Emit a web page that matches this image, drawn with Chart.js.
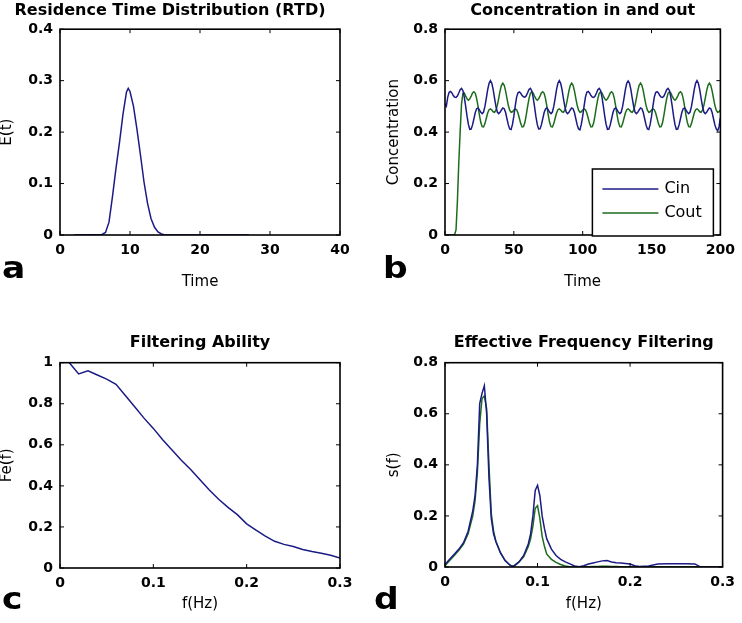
<!DOCTYPE html>
<html>
<head>
<meta charset="utf-8">
<script src="https://cdn.jsdelivr.net/npm/chart.js@4.4.1/dist/chart.umd.min.js"></script>
<style>
  body { margin: 0; background: #fff; }
  #wrap { position: relative; width: 742px; height: 623px; overflow: hidden; }
  #wrap canvas { position: absolute; }
  .tag { position: absolute; font: bold 30px "DejaVu Sans"; line-height: 30px; color: #000; transform: scaleX(1.15); transform-origin: left top; }
</style>
</head>
<body>
<div id="wrap">
  <canvas id="panelA" width="400" height="311" style="left:0;top:0"></canvas>
  <canvas id="panelB" width="371" height="311" style="left:371px;top:0"></canvas>
  <canvas id="panelC" width="371" height="312" style="left:0;top:311px"></canvas>
  <canvas id="panelD" width="371" height="312" style="left:371px;top:311px"></canvas>
  <div class="tag" style="left:2px;top:253px">a</div>
  <div class="tag" style="left:383px;top:253px">b</div>
  <div class="tag" style="left:2px;top:584px">c</div>
  <div class="tag" style="left:374px;top:584px">d</div>
</div>
<script>
// a: residence time distribution
const timeRTD = [2, 6, 6.5, 7, 7.5, 8, 8.5, 9, 9.5, 9.75, 10, 10.5, 11, 11.5, 12, 12.5, 13, 13.5, 14, 14.5, 15, 27];
const rtdE = [0, 0.001, 0.005, 0.025, 0.075, 0.13, 0.18, 0.235, 0.278, 0.285, 0.279, 0.25, 0.205, 0.155, 0.103, 0.062, 0.032, 0.015, 0.006, 0.002, 0, 0];

// b: concentration in / out, one sample per time unit (t = 0..200)
const timeConc = Array.from({ length: 201 }, (_, i) => i);
const cin = [
  0.51, 0.501, 0.536, 0.555, 0.558, 0.552, 0.542, 0.536, 0.535, 0.54,
  0.552, 0.565, 0.57, 0.562, 0.536, 0.501, 0.462, 0.43, 0.411, 0.412,
  0.428, 0.452, 0.476, 0.491, 0.494, 0.486, 0.477, 0.472, 0.478, 0.5,
  0.531, 0.565, 0.59, 0.6, 0.59, 0.565, 0.531, 0.5, 0.478, 0.472,
  0.477, 0.486, 0.494, 0.491, 0.476, 0.452, 0.428, 0.412, 0.41, 0.43,
  0.462, 0.501, 0.536, 0.553, 0.556, 0.551, 0.542, 0.537, 0.536, 0.541,
  0.553, 0.566, 0.57, 0.561, 0.535, 0.5, 0.461, 0.43, 0.412, 0.413,
  0.428, 0.452, 0.476, 0.49, 0.494, 0.486, 0.477, 0.472, 0.478, 0.5,
  0.531, 0.565, 0.59, 0.6, 0.59, 0.565, 0.531, 0.5, 0.478, 0.472,
  0.477, 0.486, 0.494, 0.491, 0.476, 0.452, 0.428, 0.412, 0.409, 0.43,
  0.462, 0.501, 0.536, 0.555, 0.558, 0.552, 0.542, 0.536, 0.535, 0.54,
  0.552, 0.565, 0.57, 0.562, 0.536, 0.501, 0.462, 0.43, 0.411, 0.412,
  0.428, 0.452, 0.476, 0.491, 0.494, 0.486, 0.477, 0.472, 0.478, 0.5,
  0.531, 0.565, 0.59, 0.599, 0.59, 0.565, 0.531, 0.5, 0.478, 0.472,
  0.477, 0.486, 0.494, 0.491, 0.476, 0.452, 0.428, 0.412, 0.41, 0.43,
  0.462, 0.501, 0.536, 0.554, 0.557, 0.552, 0.542, 0.536, 0.535, 0.54,
  0.552, 0.565, 0.57, 0.562, 0.536, 0.501, 0.462, 0.43, 0.411, 0.412,
  0.428, 0.452, 0.476, 0.491, 0.494, 0.486, 0.477, 0.472, 0.478, 0.5,
  0.531, 0.565, 0.59, 0.6, 0.59, 0.565, 0.531, 0.5, 0.478, 0.472,
  0.477, 0.486, 0.494, 0.491, 0.476, 0.452, 0.428, 0.412, 0.405, 0.42,
  0.455
];
const cout = [
  0, 0, 0, 0, 0, 0, 0, 0.002, 0.02, 0.13,
  0.28, 0.4, 0.51, 0.55, 0.552, 0.54, 0.529, 0.524, 0.529, 0.54,
  0.552, 0.557, 0.551, 0.53, 0.5, 0.466, 0.437, 0.421, 0.42, 0.433,
  0.454, 0.474, 0.487, 0.49, 0.486, 0.479, 0.477, 0.485, 0.504, 0.531,
  0.56, 0.582, 0.59, 0.582, 0.56, 0.531, 0.504, 0.485, 0.477, 0.479,
  0.486, 0.49, 0.487, 0.474, 0.454, 0.433, 0.42, 0.421, 0.437, 0.466,
  0.5, 0.53, 0.551, 0.557, 0.552, 0.54, 0.529, 0.524, 0.529, 0.54,
  0.552, 0.557, 0.551, 0.53, 0.5, 0.466, 0.437, 0.421, 0.42, 0.433,
  0.454, 0.474, 0.487, 0.49, 0.486, 0.479, 0.477, 0.485, 0.504, 0.531,
  0.56, 0.582, 0.59, 0.582, 0.56, 0.531, 0.504, 0.485, 0.477, 0.479,
  0.486, 0.49, 0.487, 0.474, 0.454, 0.433, 0.42, 0.421, 0.437, 0.466,
  0.5, 0.53, 0.551, 0.557, 0.552, 0.54, 0.529, 0.524, 0.529, 0.54,
  0.552, 0.557, 0.551, 0.53, 0.5, 0.466, 0.437, 0.421, 0.42, 0.433,
  0.454, 0.474, 0.487, 0.49, 0.486, 0.479, 0.477, 0.485, 0.504, 0.531,
  0.56, 0.582, 0.59, 0.582, 0.56, 0.531, 0.504, 0.485, 0.477, 0.479,
  0.486, 0.49, 0.487, 0.474, 0.454, 0.433, 0.42, 0.421, 0.437, 0.466,
  0.5, 0.53, 0.551, 0.557, 0.552, 0.54, 0.529, 0.524, 0.529, 0.54,
  0.552, 0.557, 0.551, 0.53, 0.5, 0.466, 0.437, 0.421, 0.42, 0.433,
  0.454, 0.474, 0.487, 0.49, 0.486, 0.479, 0.477, 0.485, 0.504, 0.531,
  0.56, 0.582, 0.59, 0.582, 0.56, 0.531, 0.504, 0.485, 0.477, 0.479,
  0.486
];

// c: filtering ability
const freqFe = [0.01, 0.02, 0.03, 0.04, 0.05, 0.06, 0.07, 0.08, 0.09, 0.10, 0.11, 0.12, 0.13, 0.14, 0.15,
  0.16, 0.17, 0.18, 0.19, 0.20, 0.21, 0.22, 0.23, 0.24, 0.25, 0.26, 0.27, 0.28, 0.29, 0.30];
const fe = [1.0, 0.945, 0.96, 0.94, 0.92, 0.895, 0.84, 0.785, 0.73, 0.68, 0.625, 0.575, 0.525, 0.48, 0.43,
  0.38, 0.335, 0.295, 0.26, 0.215, 0.185, 0.155, 0.13, 0.115, 0.105, 0.09, 0.08, 0.072, 0.062, 0.048];

// d: effective frequency filtering (spectra of Cin and Cout)
const freqS = [0, 0.005, 0.01, 0.015, 0.02, 0.025, 0.03, 0.0325, 0.035, 0.0375, 0.04, 0.0425, 0.045, 0.0475,
  0.05, 0.0525, 0.055, 0.06, 0.065, 0.07, 0.0725, 0.075, 0.08, 0.085, 0.09, 0.0925, 0.095, 0.0975, 0.1,
  0.1025, 0.105, 0.1075, 0.11, 0.115, 0.12, 0.125, 0.13, 0.135, 0.14, 0.145, 0.15, 0.155, 0.16, 0.165,
  0.17, 0.175, 0.18, 0.185, 0.19, 0.2, 0.205, 0.21, 0.22, 0.23, 0.24, 0.25, 0.26, 0.27, 0.275, 0.28, 0.29, 0.3];
const sIn = [0.01, 0.03, 0.05, 0.07, 0.095, 0.14, 0.22, 0.28, 0.4, 0.64, 0.68, 0.71, 0.6, 0.35,
  0.19, 0.13, 0.1, 0.055, 0.025, 0.008, 0.002, 0.005, 0.02, 0.045, 0.09, 0.13, 0.2, 0.3, 0.32,
  0.28, 0.2, 0.15, 0.11, 0.07, 0.045, 0.03, 0.02, 0.012, 0.004, 0.001, 0.005, 0.012, 0.016, 0.02,
  0.024, 0.025, 0.02, 0.017, 0.016, 0.012, 0.005, 0.002, 0.004, 0.012, 0.013, 0.013, 0.013, 0.012, 0.002, 0, 0, 0];
const sOut = [0.005, 0.025, 0.045, 0.065, 0.09, 0.13, 0.2, 0.26, 0.37, 0.56, 0.66, 0.67, 0.62, 0.4,
  0.21, 0.14, 0.1, 0.055, 0.025, 0.008, 0.003, 0.006, 0.02, 0.04, 0.08, 0.11, 0.16, 0.23, 0.24,
  0.19, 0.12, 0.08, 0.05, 0.03, 0.018, 0.01, 0.004, 0.001, 0, 0, 0, 0.001, 0.002, 0.002,
  0.003, 0.003, 0.002, 0.002, 0.001, 0.001, 0, 0, 0, 0.001, 0.001, 0.001, 0.001, 0.001, 0, 0, 0, 0];

const BLUE = '#1b1b86';
const GREEN = '#1c6c1c';

Chart.defaults.font.family = '"DejaVu Sans"';
Chart.defaults.color = '#000';

// matlab style box with inward ticks on all four sides
const boxFrame = {
  id: 'boxFrame',
  afterDatasetsDraw(chart) {
    const { ctx, chartArea: a, scales } = chart;
    ctx.save();
    ctx.strokeStyle = '#000';
    ctx.lineWidth = 1;
    ctx.beginPath();
    scales.x.ticks.forEach(t => {
      const px = scales.x.getPixelForValue(t.value);
      ctx.moveTo(px, a.bottom); ctx.lineTo(px, a.bottom - 4);
      ctx.moveTo(px, a.top); ctx.lineTo(px, a.top + 4);
    });
    scales.y.ticks.forEach(t => {
      const py = scales.y.getPixelForValue(t.value);
      ctx.moveTo(a.left, py); ctx.lineTo(a.left + 4, py);
      ctx.moveTo(a.right, py); ctx.lineTo(a.right - 4, py);
    });
    ctx.stroke();
    ctx.lineWidth = 1.6;
    ctx.strokeRect(a.left, a.top, a.right - a.left, a.bottom - a.top);
    ctx.restore();
  }
};

// boxed legend in the lower right of the plot (panel b)
const boxLegend = {
  id: 'boxLegend',
  afterDraw(chart) {
    const { ctx, chartArea: a } = chart;
    const w = 121, h = 67;
    const x = a.right - 7 - w, y = a.bottom + 1 - h;
    ctx.save();
    ctx.fillStyle = '#fff';
    ctx.fillRect(x, y, w, h);
    ctx.strokeStyle = '#000';
    ctx.lineWidth = 1.5;
    ctx.strokeRect(x, y, w, h);
    ctx.font = '16px "DejaVu Sans"';
    ctx.textBaseline = 'middle';
    chart.data.datasets.forEach((ds, i) => {
      const ly = y + 20 + i * 24;
      ctx.strokeStyle = ds.borderColor;
      ctx.lineWidth = 1.5;
      ctx.beginPath();
      ctx.moveTo(x + 10, ly);
      ctx.lineTo(x + 66, ly);
      ctx.stroke();
      ctx.fillStyle = '#000';
      ctx.fillText(ds.label, x + 72, ly);
    });
    ctx.restore();
  }
};

function series(label, xs, ys, color) {
  return {
    label: label,
    data: xs.map((x, i) => ({ x: x, y: ys[i] })),
    borderColor: color,
    borderWidth: 1.5,
    pointRadius: 0,
    tension: 0,
    fill: false
  };
}

function fmt(v) {
  return String(Math.round(v * 100) / 100);
}

function makePanel(id, cfg) {
  return new Chart(document.getElementById(id), {
    type: 'line',
    data: { datasets: cfg.datasets },
    plugins: cfg.legend ? [boxFrame, boxLegend] : [boxFrame],
    options: {
      responsive: false,
      animation: false,
      devicePixelRatio: 1,
      layout: { padding: { left: 0, right: cfg.padRight, top: 0, bottom: 0 } },
      plugins: {
        legend: { display: false },
        tooltip: { enabled: false },
        title: {
          display: true,
          text: cfg.title,
          fullSize: !!cfg.titleFull,
          color: '#000',
          font: { size: 16, weight: 'bold' },
          padding: cfg.titlePad
        }
      },
      scales: {
        x: {
          type: 'linear',
          min: cfg.xMin, max: cfg.xMax,
          grid: { display: false, drawTicks: false },
          border: { display: false },
          ticks: { stepSize: cfg.xStep, padding: 7, autoSkip: false, maxRotation: 0,
            font: { size: 14, weight: 'bold' }, callback: fmt },
          title: { display: true, text: cfg.xTitle, font: { size: 15 }, padding: { top: 0, bottom: cfg.xTitleBottom } },
          afterFit: s => { s.height = cfg.xHeight; }
        },
        y: {
          min: cfg.yMin, max: cfg.yMax,
          grid: { display: false, drawTicks: false },
          border: { display: false },
          ticks: { stepSize: cfg.yStep, padding: 7, autoSkip: false,
            font: { size: 14, weight: 'bold' }, callback: fmt },
          title: { display: true, text: cfg.yTitle, font: { size: 15 }, padding: { top: cfg.yTitleTop, bottom: 0 } },
          afterFit: s => { s.width = cfg.yWidth; }
        }
      }
    }
  });
}

// panel a canvas is wider (transparent overlap) so its long title can centre over the plot
makePanel('panelA', {
  title: 'Residence Time Distribution (RTD)',
  titleFull: true,
  datasets: [series('E(t)', timeRTD, rtdE, BLUE)],
  xMin: 0, xMax: 40, xStep: 10, yMin: 0, yMax: 0.4, yStep: 0.1,
  xTitle: 'Time', yTitle: 'E(t)',
  padRight: 60, titlePad: { top: 1, bottom: 9 }, xHeight: 76, yWidth: 60, xTitleBottom: 20, yTitleTop: -2
});

makePanel('panelB', {
  title: 'Concentration in and out',
  datasets: [series('Cin', timeConc, cin, BLUE), series('Cout', timeConc, cout, GREEN)],
  legend: true,
  xMin: 0, xMax: 200, xStep: 50, yMin: 0, yMax: 0.8, yStep: 0.2,
  xTitle: 'Time', yTitle: 'Concentration',
  padRight: 16, titlePad: { top: 1, bottom: 9 }, xHeight: 76, yWidth: 74, xTitleBottom: 20, yTitleTop: 14
});

makePanel('panelC', {
  title: 'Filtering Ability',
  datasets: [series('Fe(f)', freqFe, fe, BLUE)],
  xMin: 0, xMax: 0.3, xStep: 0.1, yMin: 0, yMax: 1, yStep: 0.2,
  xTitle: 'f(Hz)', yTitle: 'Fe(f)',
  padRight: 31, titlePad: { top: 22, bottom: 10.5 }, xHeight: 55, yWidth: 60, xTitleBottom: 10, yTitleTop: -2
});

makePanel('panelD', {
  title: 'Effective Frequency Filtering',
  datasets: [series('Cin', freqS, sIn, BLUE), series('Cout', freqS, sOut, GREEN)],
  xMin: 0, xMax: 0.3, xStep: 0.1, yMin: 0, yMax: 0.8, yStep: 0.2,
  xTitle: 'f(Hz)', yTitle: 's(f)',
  padRight: 16, titlePad: { top: 22, bottom: 10.5 }, xHeight: 56, yWidth: 74, xTitleBottom: 10, yTitleTop: 14
});
</script>
</body>
</html>
